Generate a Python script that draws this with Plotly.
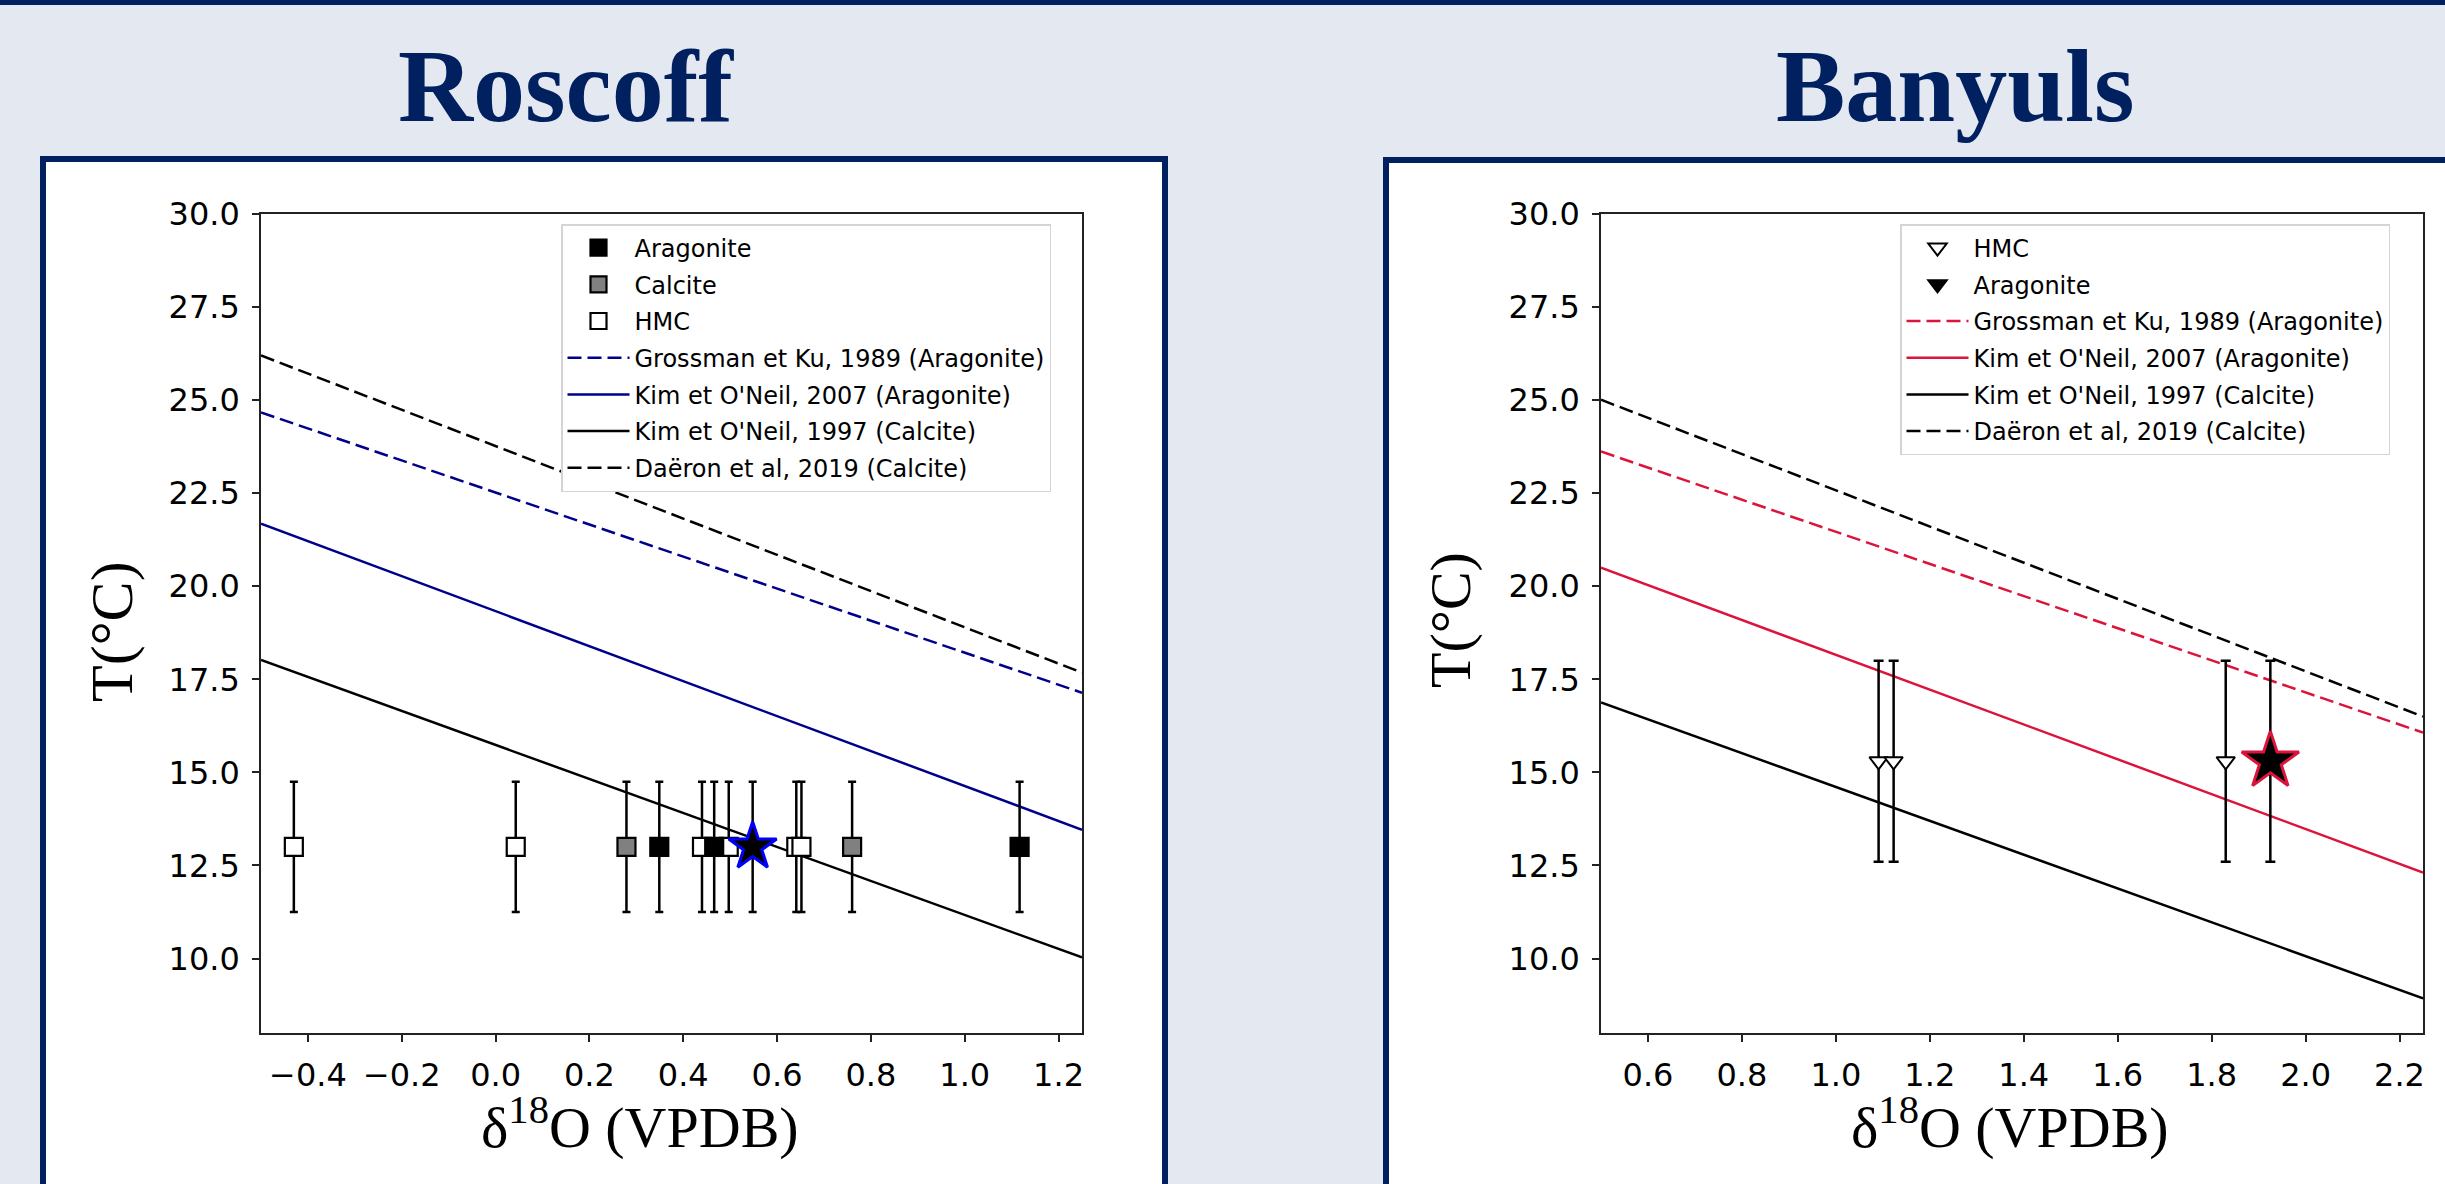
import plotly.graph_objects as go

# ---------------- data ----------------
# Roscoff
ros_hmc_d18o = [-0.43, 0.043, 0.44, 0.497, 0.641, 0.652]
ros_hmc_T = [13.0, 13.0, 13.0, 13.0, 13.0, 13.0]
ros_calcite_d18o = [0.279, 0.760]
ros_calcite_T = [13.0, 13.0]
ros_arag_d18o = [0.349, 0.466, 1.117]
ros_arag_T = [13.0, 13.0, 13.0]
ros_mean_d18o = [0.548]
ros_mean_T = [13.0]
ros_T_err = 1.75

ros_line_x = [-0.5, 1.25]
ros_grossman = [24.67, 17.14]
ros_kim2007 = [21.68, 13.46]
ros_kim1997 = [18.02, 10.03]
ros_daeron = [26.20, 17.68]

# Banyuls
ban_hmc_d18o = [1.091, 1.123, 1.830]
ban_hmc_T = [15.3, 15.3, 15.3]
ban_arag_d18o = [1.925]
ban_arag_T = [15.3]
ban_T_err = 2.7

ban_line_x = [0.5, 2.25]
ban_grossman = [23.62, 16.07]
ban_kim2007 = [20.50, 12.31]
ban_kim1997 = [16.88, 8.93]
ban_daeron = [25.01, 16.50]

x_ticks_ros = [-0.4, -0.2, 0.0, 0.2, 0.4, 0.6, 0.8, 1.0, 1.2]
x_ticks_ban = [0.6, 0.8, 1.0, 1.2, 1.4, 1.6, 1.8, 2.0, 2.2]
y_ticks = [10.0, 12.5, 15.0, 17.5, 20.0, 22.5, 25.0, 27.5, 30.0]

# ---------------- styling ----------------
W, H = 2445, 1184
NAVY = "#002060"
SLIDE_BG = "#E4E8F0"
DBLUE = "#00008B"
CRIMSON = "#DC143C"
TICKFONT = dict(family="DejaVu Sans", size=32, color="black")
SERIF = "Liberation Serif, Times New Roman, serif"


def fx(p):
    return p / W


def fy(p):
    return 1 - p / H


DASH = "14px,6px"
LW = 2.5

fig = go.Figure()


def add(tr, grp):
    tr.update(legendgroup=grp)
    fig.add_trace(tr)


# ----- Roscoff lines -----
add(go.Scatter(x=ros_line_x, y=ros_grossman, mode="lines",
               name="Grossman et Ku, 1989 (Aragonite)",
               line=dict(color=DBLUE, width=LW, dash=DASH),
               xaxis="x", yaxis="y", legend="legend", legendrank=4), "r4")
add(go.Scatter(x=ros_line_x, y=ros_kim2007, mode="lines",
               name="Kim et O'Neil, 2007 (Aragonite)",
               line=dict(color=DBLUE, width=LW),
               xaxis="x", yaxis="y", legend="legend", legendrank=5), "r5")
add(go.Scatter(x=ros_line_x, y=ros_kim1997, mode="lines",
               name="Kim et O'Neil, 1997 (Calcite)",
               line=dict(color="black", width=LW),
               xaxis="x", yaxis="y", legend="legend", legendrank=6), "r6")
add(go.Scatter(x=ros_line_x, y=ros_daeron, mode="lines",
               name="Daëron et al, 2019 (Calcite)",
               line=dict(color="black", width=LW, dash=DASH),
               xaxis="x", yaxis="y", legend="legend", legendrank=7), "r7")

ERR_R = dict(type="constant", value=ros_T_err, color="black", thickness=2.5, width=4)


def sq(fill):
    return dict(symbol="square", size=18, color=fill, line=dict(color="black", width=2.2))


add(go.Scatter(x=ros_hmc_d18o, y=ros_hmc_T, mode="markers", name="HMC",
               marker=sq("white"), error_y=ERR_R,
               xaxis="x", yaxis="y", legend="legend", legendrank=3), "r3")
add(go.Scatter(x=ros_calcite_d18o, y=ros_calcite_T, mode="markers", name="Calcite",
               marker=sq("#808080"), error_y=ERR_R,
               xaxis="x", yaxis="y", legend="legend", legendrank=2), "r2")
add(go.Scatter(x=ros_arag_d18o, y=ros_arag_T, mode="markers", name="Aragonite",
               marker=sq("black"), error_y=ERR_R,
               xaxis="x", yaxis="y", legend="legend", legendrank=1), "r1")
add(go.Scatter(x=ros_mean_d18o, y=ros_mean_T, mode="markers", showlegend=False,
               marker=dict(symbol="star", size=36, color="black",
                           line=dict(color="#0000FF", width=3)),
               error_y=ERR_R, xaxis="x", yaxis="y"), "r8")

# ----- Banyuls lines -----
add(go.Scatter(x=ban_line_x, y=ban_grossman, mode="lines",
               name="Grossman et Ku, 1989 (Aragonite)",
               line=dict(color=CRIMSON, width=LW, dash=DASH),
               xaxis="x2", yaxis="y2", legend="legend2", legendrank=3), "b3")
add(go.Scatter(x=ban_line_x, y=ban_kim2007, mode="lines",
               name="Kim et O'Neil, 2007 (Aragonite)",
               line=dict(color=CRIMSON, width=LW),
               xaxis="x2", yaxis="y2", legend="legend2", legendrank=4), "b4")
add(go.Scatter(x=ban_line_x, y=ban_kim1997, mode="lines",
               name="Kim et O'Neil, 1997 (Calcite)",
               line=dict(color="black", width=LW),
               xaxis="x2", yaxis="y2", legend="legend2", legendrank=5), "b5")
add(go.Scatter(x=ban_line_x, y=ban_daeron, mode="lines",
               name="Daëron et al, 2019 (Calcite)",
               line=dict(color="black", width=LW, dash=DASH),
               xaxis="x2", yaxis="y2", legend="legend2", legendrank=6), "b6")

ERR_B = dict(type="constant", value=ban_T_err, color="black", thickness=2.5, width=5)

add(go.Scatter(x=ban_hmc_d18o, y=ban_hmc_T, mode="markers", name="HMC",
               marker=dict(symbol="triangle-down", size=16, color="white",
                           line=dict(color="black", width=2)),
               error_y=ERR_B, xaxis="x2", yaxis="y2", legend="legend2", legendrank=1), "b1")
add(go.Scatter(x=ban_arag_d18o, y=ban_arag_T, mode="markers", name="Aragonite",
               marker=dict(symbol="triangle-down", size=16, color="black",
                           line=dict(color="black", width=2)),
               error_y=ERR_B, xaxis="x2", yaxis="y2", legend="legend2", legendrank=2), "b2")
add(go.Scatter(x=ban_arag_d18o, y=ban_arag_T, mode="markers", showlegend=False,
               marker=dict(symbol="star", size=43, color="black",
                           line=dict(color=CRIMSON, width=3)),
               xaxis="x2", yaxis="y2"), "b7")

# ----- axes -----
common_axis = dict(showline=True, mirror=True, linecolor="#222222", linewidth=1.6,
                   ticks="outside", ticklen=7, tickwidth=1.6, tickcolor="#222222",
                   showgrid=False, zeroline=False, tickfont=TICKFONT,
                   ticklabelstandoff=6, fixedrange=True, automargin=False)

LEG = dict(yanchor="top", xanchor="left",
           bgcolor="white", bordercolor="#d4d4d4", borderwidth=1.5,
           font=dict(family="DejaVu Sans", size=24, color="black"),
           itemwidth=62, tracegroupgap=2.5, traceorder="grouped")

fig.update_layout(
    width=W, height=H,
    margin=dict(l=0, r=0, t=0, b=0, pad=0, autoexpand=False),
    paper_bgcolor=SLIDE_BG,
    plot_bgcolor="white",
    font=dict(family="DejaVu Sans", color="black"),
    xaxis=dict(domain=[fx(261), fx(1082)], range=[-0.5, 1.25], tickvals=x_ticks_ros,
               tickformat=".1f", anchor="y", **common_axis),
    yaxis=dict(domain=[fy(1033), fy(214)], range=[8, 30], tickvals=y_ticks,
               tickformat=".1f", anchor="x", **common_axis),
    xaxis2=dict(domain=[fx(1601), fx(2423)], range=[0.5, 2.25], tickvals=x_ticks_ban,
                tickformat=".1f", anchor="y2", **common_axis),
    yaxis2=dict(domain=[fy(1033), fy(214)], range=[8, 30], tickvals=y_ticks,
                tickformat=".1f", anchor="x2", **common_axis),
    legend=dict(x=fx(561), y=fy(224), **LEG),
    legend2=dict(x=fx(1900), y=fy(224), **LEG),
    showlegend=True,
)

# ----- slide decorations -----
shapes = [
    # top navy band
    dict(type="rect", xref="paper", yref="paper", x0=0, x1=1, y0=fy(5), y1=1.0,
         fillcolor=NAVY, line=dict(width=0), layer="below"),
    # Roscoff panel
    dict(type="rect", xref="paper", yref="paper", x0=fx(43), x1=fx(1165), y0=-0.05, y1=fy(159),
         fillcolor="white", line=dict(color=NAVY, width=6), layer="below"),
    # Banyuls panel
    dict(type="rect", xref="paper", yref="paper", x0=fx(1386), x1=1.05, y0=-0.05, y1=fy(160),
         fillcolor="white", line=dict(color=NAVY, width=6), layer="below"),
]
fig.update_layout(shapes=shapes)

annotations = [
    dict(text="<b>Roscoff</b>", x=fx(566), y=fy(86), xanchor="center", yanchor="middle",
         font=dict(family=SERIF, size=104, color=NAVY)),
    dict(text="<b>Banyuls</b>", x=fx(1955), y=fy(86), xanchor="center", yanchor="middle",
         font=dict(family=SERIF, size=104, color=NAVY)),
    dict(text="δ<sup>18</sup>O (VPDB)", x=fx(640), y=fy(1162), xanchor="center", yanchor="bottom",
         font=dict(family=SERIF, size=58, color="black")),
    dict(text="δ<sup>18</sup>O (VPDB)", x=fx(2010), y=fy(1162), xanchor="center", yanchor="bottom",
         font=dict(family=SERIF, size=58, color="black")),
    dict(text="T(°C)", x=fx(112), y=fy(632), xanchor="center", yanchor="middle", textangle=-90,
         font=dict(family=SERIF, size=60, color="black")),
    dict(text="T(°C)", x=fx(1450), y=fy(620), xanchor="center", yanchor="middle", textangle=-90,
         font=dict(family=SERIF, size=58, color="black")),
]
for a in annotations:
    a.update(xref="paper", yref="paper", showarrow=False)
fig.update_layout(annotations=annotations)

fig.write_html(
    "out.html",
    config={"displayModeBar": False},
    post_script="document.body.style.margin='0';document.body.style.padding='0';document.body.style.overflow='hidden';",
)
